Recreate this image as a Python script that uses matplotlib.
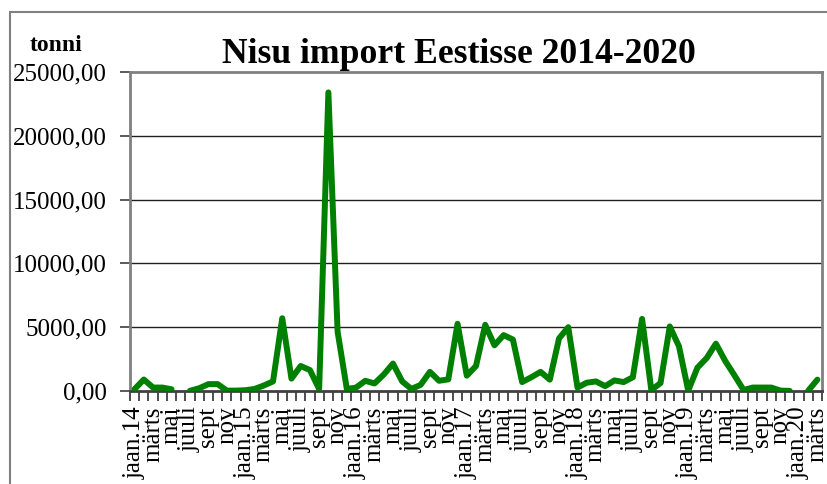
import numpy as np
import matplotlib
matplotlib.use('Agg')
import matplotlib.pyplot as plt
from matplotlib.patches import Rectangle

plt.rcParams['font.family'] = ['Liberation Serif', 'DejaVu Serif']

nan = np.nan
# monthly wheat import, tonnes (jaan..dets)
y2014 = [150, 900, 270, 270, 135, nan, 20, 215, 540, 540, 30, 30]
y2015 = [60, 160, 430, 750, 5700, 970, 1960, 1640, 160, 23400, 4650, 160]
y2016 = [270, 800, 590, 1290, 2150, 750, 160, 480, 1500, 800, 915, 5270]
y2017 = [1200, 1960, 5190, 3580, 4380, 4030, 700, 1080, 1500, 890, 4120, 5000]
y2018 = [270, 650, 750, 380, 830, 700, 1080, 5650, 80, 620, 5060, 3500]
y2019 = [30, 1830, 2580, 3710, 2370, 1240, 80, 270, 270, 270, 30, 10]
y2020 = [nan, 20, 890]

months = ['jaan', 'veebr', 'märts', 'apr', 'mai', 'juuni',
          'juuli', 'aug', 'sept', 'okt', 'nov', 'dets']
years = ['14', '15', '16', '17', '18', '19', '20']
y_ticks = [0, 5000, 10000, 15000, 20000, 25000]

values = np.array(y2014 + y2015 + y2016 + y2017 + y2018 + y2019 + y2020, dtype=float)
labels = []
for i in range(len(values)):
    m = months[i % 12]
    if m == 'jaan':
        m = 'jaan.' + years[i // 12]
    labels.append(m)

fig = plt.figure(figsize=(8.27, 4.84), dpi=100)
axis = fig.add_axes([130 / 827, 1 - 391 / 484, 692 / 827, 319 / 484])

x = np.arange(len(values))
axis.plot(x, values, color='#008000', linewidth=4.3,
          solid_joinstyle='round', solid_capstyle='round', zorder=5)

axis.set_xlim(-0.5, len(values) - 0.5)
axis.set_ylim(0, 25000)

axis.set_yticks(y_ticks)
axis.set_yticklabels(['%d,00' % v for v in y_ticks], fontsize=18)
axis.tick_params(axis='y', direction='out', length=7, width=1.2,
                 color='#404040', pad=10)
for v in y_ticks[1:-1]:
    axis.axhline(v, color='#202020', linewidth=1.0, zorder=1)

# labels at category centres, tick marks at category borders
axis.set_xticks(x[::2])
axis.set_xticklabels(labels[::2], rotation=90, fontsize=18, va='top', ha='center')
axis.tick_params(axis='x', which='major', length=0, pad=11)
axis.set_xticks(np.arange(-0.5, len(values)), minor=True)
axis.tick_params(axis='x', which='minor', direction='out', length=7,
                 width=1.2, color='#303030')

for side in ['left', 'top', 'right']:
    axis.spines[side].set_color('#808080')
    axis.spines[side].set_linewidth(2)
axis.spines['bottom'].set_color('#404040')
axis.spines['bottom'].set_linewidth(2)

fig.text(459 / 827, 1 - 63 / 484, 'Nisu import Eestisse 2014-2020',
         ha='center', va='baseline', fontsize=25.7, fontweight='bold')
fig.text(30 / 827, 1 - 51 / 484, 'tonni', ha='left', va='baseline',
         fontsize=17, fontweight='bold')

fig.patches.append(Rectangle((10 / 827, -0.1), 1.1, 1 - 12 / 484 + 0.1,
                             transform=fig.transFigure, fill=False,
                             edgecolor='#808080', linewidth=1.5))

fig.savefig('out.png', dpi=100)
